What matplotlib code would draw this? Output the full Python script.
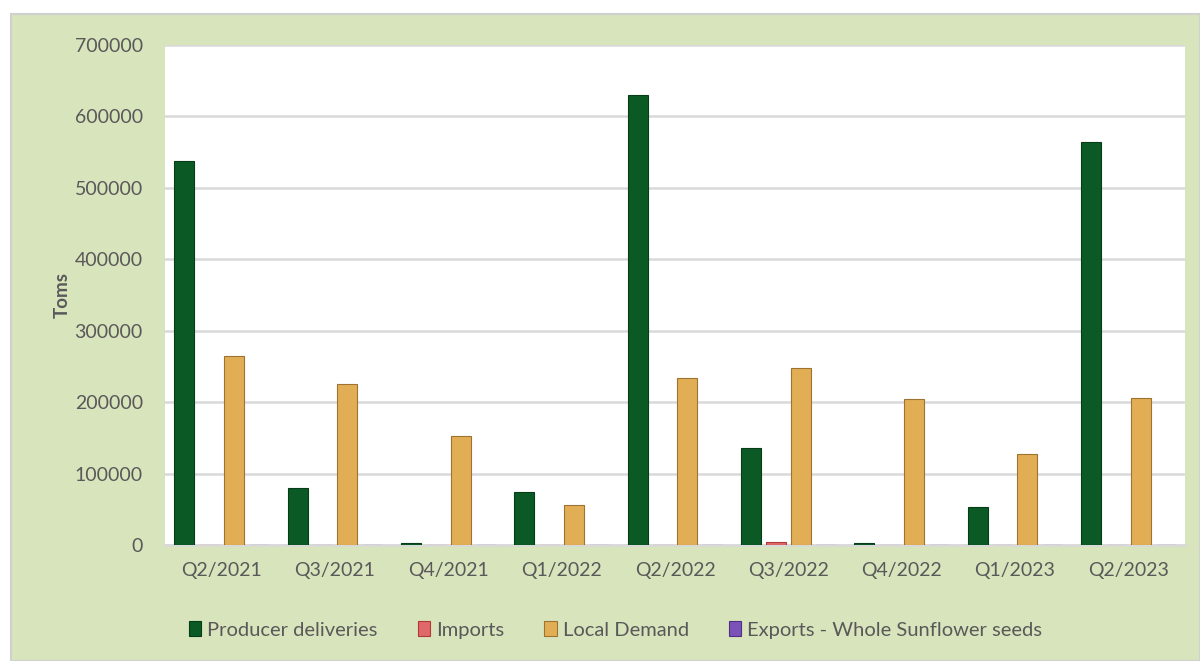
import numpy as np
import matplotlib.pyplot as plt
from matplotlib.patches import Rectangle

# Data
quarters = ["Q2/2021", "Q3/2021", "Q4/2021", "Q1/2022", "Q2/2022",
            "Q3/2022", "Q4/2022", "Q1/2023", "Q2/2023"]
producer_deliveries = [537000, 80000, 2500, 74500, 630000, 136000, 2500, 53000, 564000]
imports = [0, 0, 0, 0, 0, 4000, 0, 0, 0]
local_demand = [264000, 226000, 153000, 56000, 234000, 248000, 204000, 127000, 206000]
exports = [0, 0, 0, 0, 0, 0, 0, 0, 0]

series = [
    ("Producer deliveries", producer_deliveries, "#0B5A25", "#063D18"),
    ("Imports", imports, "#E06868", "#B03A3A"),
    ("Local Demand", local_demand, "#E2AE55", "#9C7330"),
    ("Exports - Whole Sunflower seeds", exports, "#7A52B8", "#4E2E86"),
]

plt.rcParams['font.family'] = ['Lato', 'DejaVu Sans']
text_col = "#595959"

fig = plt.figure(figsize=(12, 6.61), dpi=100)
fig.patch.set_facecolor("white")
# green chart panel
fig.patches.append(Rectangle((11 / 1200, 0), 1189 / 1200, 647 / 661,
                             transform=fig.transFigure, facecolor="#D8E4BC",
                             edgecolor="#D0D0D0", linewidth=1.5, zorder=-10))

ax = fig.add_axes([165 / 1200, 116 / 661, 1020 / 1200, 500 / 661])
ax.set_facecolor("white")

x = np.arange(len(quarters))
slot = 0.22
width = 0.176
for i, (name, vals, col, edge) in enumerate(series):
    ax.bar(x + (i - 1.5) * slot, vals, width, color=col, edgecolor=edge,
           linewidth=0.8, label=name, zorder=3)

ax.set_xlim(-0.5, len(quarters) - 0.5)
ax.set_ylim(0, 700000)
ax.set_yticks(np.arange(0, 700001, 100000))
ax.set_yticklabels([str(v) for v in range(0, 700001, 100000)])
ax.set_xticks(x)
ax.set_xticklabels(quarters)
ax.tick_params(axis="both", length=0, labelsize=14, colors=text_col)
ax.tick_params(axis="x", pad=12)
ax.tick_params(axis="y", pad=16)
ax.grid(axis="y", color="#D9D9D9", linewidth=1.8, zorder=0)
for s in ["left", "right", "top"]:
    ax.spines[s].set_visible(False)
ax.spines["bottom"].set_color("#D9D9D9")
ax.spines["bottom"].set_linewidth(1.8)

ax.set_ylabel("Toms", fontsize=13.5, color=text_col, fontweight="bold", labelpad=3)

fig.legend(loc="center", bbox_to_anchor=(0.513, 0.047), ncol=4, frameon=False,
           fontsize=14.5, labelcolor=text_col, handlelength=0.6, handleheight=0.8,
           handletextpad=0.3, columnspacing=2.0)

fig.savefig("out.png", dpi=100)
